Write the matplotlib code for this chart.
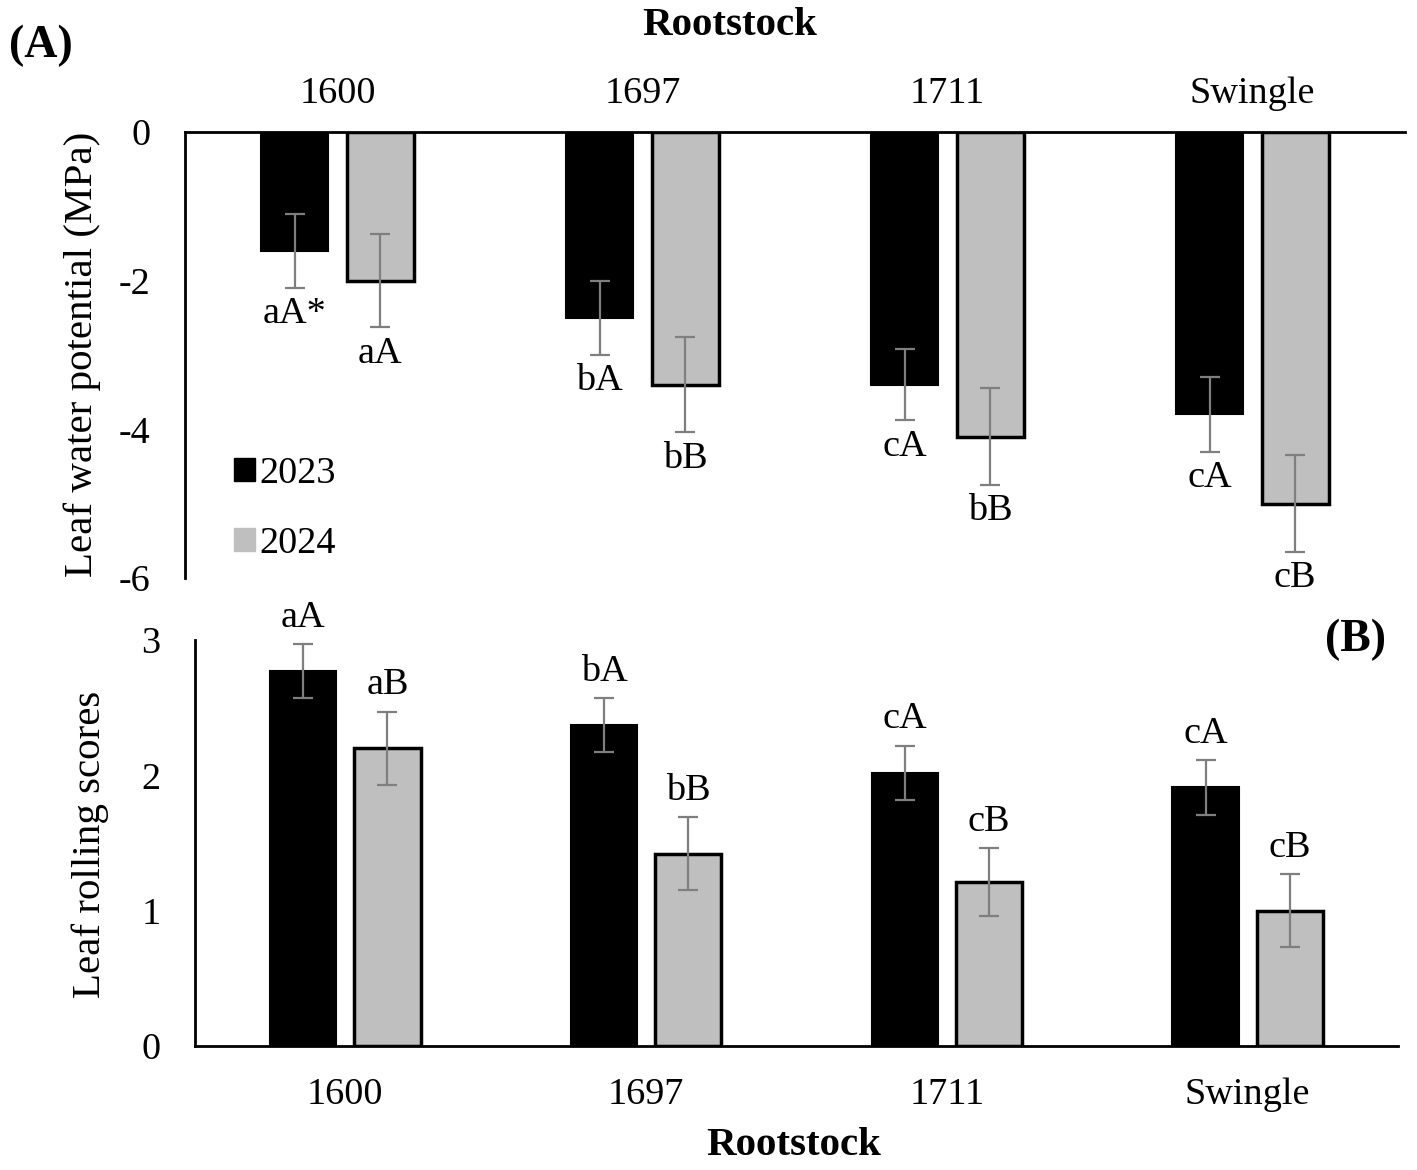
import numpy as np
import matplotlib
matplotlib.use("Agg")
import matplotlib.pyplot as plt
from matplotlib.patches import Patch

plt.rcParams['font.family'] = ['Liberation Serif', 'DejaVu Serif']

rootstocks = ["1600", "1697", "1711", "Swingle"]
years = ["2023", "2024"]

# Panel A: leaf water potential (MPa)
lwp_2023 = [-1.6, -2.5, -3.4, -3.8]
lwp_2024 = [-2.0, -3.4, -4.1, -5.0]
lwp_err_2023 = [0.5, 0.5, 0.48, 0.5]
lwp_err_2024 = [0.63, 0.64, 0.65, 0.65]
lwp_letters_2023 = ["aA*", "bA", "cA", "cA"]
lwp_letters_2024 = ["aA", "bB", "bB", "cB"]

# Panel B: leaf rolling scores
lrs_2023 = [2.77, 2.37, 2.02, 1.91]
lrs_2024 = [2.20, 1.42, 1.21, 1.00]
lrs_err_2023 = [0.2, 0.2, 0.2, 0.2]
lrs_err_2024 = [0.27, 0.27, 0.25, 0.27]
lrs_letters_2023 = ["aA", "bA", "cA", "cA"]
lrs_letters_2024 = ["aB", "bB", "cB", "cB"]

FS = 27.5
FL = 29.5
c2023 = "black"
c2024 = "#bfbfbf"
ecol = "#7f7f7f"
W = 0.22
OFF = 0.14

fig = plt.figure(figsize=(14.17, 11.7), dpi=100)
ax1 = fig.add_axes([0.1306, 0.506, 0.8609, 0.3812])
ax2 = fig.add_axes([0.1376, 0.106, 0.849, 0.347])

x = np.arange(len(rootstocks))

def draw(ax, v1, v2, e1, e2):
    ax.bar(x - OFF, v1, width=W, color=c2023, edgecolor="black", linewidth=1.5, label=years[0], zorder=2)
    ax.bar(x + OFF, v2, width=W, color=c2024, edgecolor="black", linewidth=2.5, label=years[1], zorder=2)
    ax.errorbar(x - OFF, v1, yerr=e1, fmt="none", ecolor=ecol, elinewidth=1.6, capsize=7, capthick=1.6, zorder=3)
    ax.errorbar(x + OFF, v2, yerr=e2, fmt="none", ecolor=ecol, elinewidth=1.6, capsize=7, capthick=1.6, zorder=3)
    ax.set_xlim(-0.5, 3.5)
    ax.set_xticks(x)
    ax.set_xticklabels(rootstocks, fontsize=FS)
    ax.tick_params(axis="both", length=0, labelsize=FS)

# Panel A
draw(ax1, lwp_2023, lwp_2024, lwp_err_2023, lwp_err_2024)
ax1.set_ylim(-6, 0)
ax1.set_yticks([0, -2, -4, -6])
ax1.set_yticklabels(["0", "-2", "-4", "-6"])
ax1.xaxis.tick_top()
ax1.tick_params(axis="x", pad=15)
ax1.tick_params(axis="y", pad=25)
for s in ["right", "bottom"]:
    ax1.spines[s].set_visible(False)
for s in ["top", "left"]:
    ax1.spines[s].set_linewidth(2)
for i in range(len(rootstocks)):
    ax1.text(x[i] - OFF, lwp_2023[i] - lwp_err_2023[i] - 0.12, lwp_letters_2023[i],
             ha="center", va="top", fontsize=FS)
    ax1.text(x[i] + OFF, lwp_2024[i] - lwp_err_2024[i] - 0.12, lwp_letters_2024[i],
             ha="center", va="top", fontsize=FS)

handles = [Patch(facecolor=c2023, edgecolor=c2023), Patch(facecolor=c2024, edgecolor=c2024)]
ax1.legend(handles, years, loc="lower left", bbox_to_anchor=(0.012, -0.04), frameon=False,
           fontsize=FS, handlelength=0.55, handleheight=0.55, handletextpad=0.1, labelspacing=0.95)

# Panel B
draw(ax2, lrs_2023, lrs_2024, lrs_err_2023, lrs_err_2024)
ax2.set_ylim(0, 3)
ax2.set_yticks([0, 1, 2, 3])
ax2.tick_params(axis="x", pad=23)
ax2.tick_params(axis="y", pad=25)
for s in ["right", "top"]:
    ax2.spines[s].set_visible(False)
for s in ["bottom", "left"]:
    ax2.spines[s].set_linewidth(2)
for i in range(len(rootstocks)):
    ax2.text(x[i] - OFF, lrs_2023[i] + lrs_err_2023[i] + 0.07, lrs_letters_2023[i],
             ha="center", va="bottom", fontsize=FS)
    ax2.text(x[i] + OFF, lrs_2024[i] + lrs_err_2024[i] + 0.07, lrs_letters_2024[i],
             ha="center", va="bottom", fontsize=FS)

# Titles and labels
fig.text(0.515, 0.978, "Rootstock", ha="center", va="center", fontsize=FL, fontweight="bold")
fig.text(0.56, 0.021, "Rootstock", ha="center", va="center", fontsize=FL, fontweight="bold")
fig.text(0.058, 0.697, "Leaf water potential (MPa)", rotation=90, ha="center", va="center", fontsize=FL)
fig.text(0.064, 0.278, "Leaf rolling scores", rotation=90, ha="center", va="center", fontsize=FL)
fig.text(0.006, 0.961, "(A)", ha="left", va="center", fontsize=33, fontweight="bold")
fig.text(0.978, 0.453, "(B)", ha="right", va="center", fontsize=33, fontweight="bold")

fig.savefig("out.png", dpi=100)
